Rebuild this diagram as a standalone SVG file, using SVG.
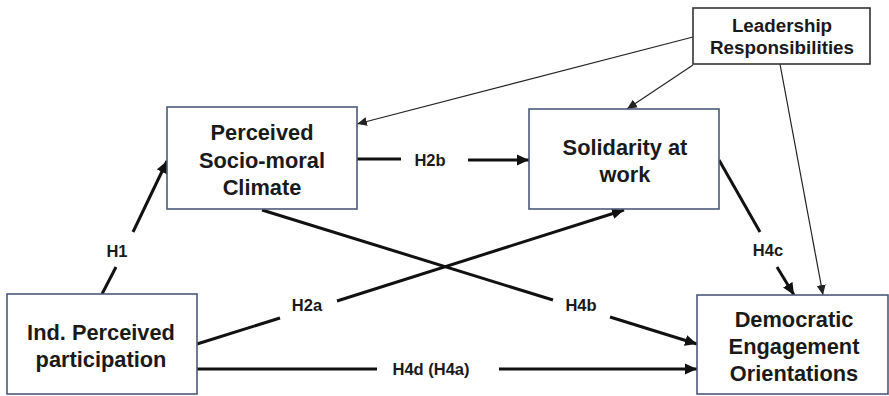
<svg xmlns="http://www.w3.org/2000/svg" width="889" height="396" viewBox="0 0 889 396">
<style>
.box{fill:#fff;stroke:#4a5a78;stroke-width:1.6}
.lbox{fill:#fff;stroke:#333;stroke-width:1.6}
.nt{font-family:"Liberation Sans",Arial,sans-serif;font-weight:bold;font-size:21.8px;fill:#1a1a1a;text-anchor:middle}
.lt{font-family:"Liberation Sans",Arial,sans-serif;font-weight:bold;font-size:18.8px;fill:#1a1a1a;text-anchor:middle}
.el{font-family:"Liberation Sans",Arial,sans-serif;font-weight:bold;font-size:16.5px;fill:#1a1a1a;text-anchor:middle}
.thick{stroke:#111;stroke-width:3;fill:none}
.thin{stroke:#222;stroke-width:1.2;fill:none}
</style>
<defs>
<marker id="ah" markerUnits="userSpaceOnUse" markerWidth="14" markerHeight="12" refX="12" refY="6" orient="auto">
<path d="M0,0.5 L12,6 L0,11.5 Z" fill="#111"/>
</marker>
<marker id="ahs" markerUnits="userSpaceOnUse" markerWidth="12" markerHeight="10" refX="10" refY="5" orient="auto">
<path d="M0,0.5 L10,5 L0,9.5 Z" fill="#222"/>
</marker>
</defs>
<rect width="889" height="396" fill="#fff"/>
<g id="connectors">
<path class="thick" d="M102,294 L116,267"/>
<path class="thick" d="M133,232 L167,161" marker-end="url(#ah)"/>
<path class="thick" d="M357,159 L401,159"/>
<path class="thick" d="M468,160 L529,160" marker-end="url(#ah)"/>
<path class="thick" d="M197,344 L280,318"/>
<path class="thick" d="M337,301 L624,210" marker-end="url(#ah)"/>
<path class="thick" d="M262,210 L553,300"/>
<path class="thick" d="M610,317 L697,344" marker-end="url(#ah)"/>
<path class="thick" d="M197,369 L377,369"/>
<path class="thick" d="M499,369 L697,369" marker-end="url(#ah)"/>
<path class="thick" d="M719,160 L760,232"/>
<path class="thick" d="M777,267 L794,295" marker-end="url(#ah)"/>
<path class="thin" d="M693,37 L357,124" marker-end="url(#ahs)"/>
<path class="thin" d="M693,65 L627,109" marker-end="url(#ahs)"/>
<path class="thin" d="M780,64 L823,295" marker-end="url(#ahs)"/>
<text class="el" x="117" y="257">H1</text>
<text class="el" x="430" y="166">H2b</text>
<text class="el" x="307" y="311">H2a</text>
<text class="el" x="581" y="311">H4b</text>
<text class="el" x="431" y="375">H4d (H4a)</text>
<text class="el" x="768" y="256">H4c</text>
</g>
<g id="node-climate">
<rect class="box" x="167" y="107" width="190" height="102"/>
<text class="nt" x="262" y="140">Perceived</text>
<text class="nt" x="262" y="168">Socio-moral</text>
<text class="nt" x="262" y="195">Climate</text>
</g>
<g id="node-solidarity">
<rect class="box" x="529" y="109" width="190" height="100"/>
<text class="nt" x="625" y="155">Solidarity at</text>
<text class="nt" x="625" y="182">work</text>
</g>
<g id="node-leadership">
<rect class="lbox" x="693" y="8" width="177" height="56"/>
<text class="lt" x="782" y="32">Leadership</text>
<text class="lt" x="782" y="54">Responsibilities</text>
</g>
<g id="node-participation">
<rect class="box" x="7" y="294" width="190" height="100"/>
<text class="nt" x="101" y="340">Ind. Perceived</text>
<text class="nt" x="101" y="367">participation</text>
</g>
<g id="node-democratic">
<rect class="box" x="697" y="295" width="191" height="99"/>
<text class="nt" x="794" y="327">Democratic</text>
<text class="nt" x="794" y="354">Engagement</text>
<text class="nt" x="794" y="381">Orientations</text>
</g>
</svg>
